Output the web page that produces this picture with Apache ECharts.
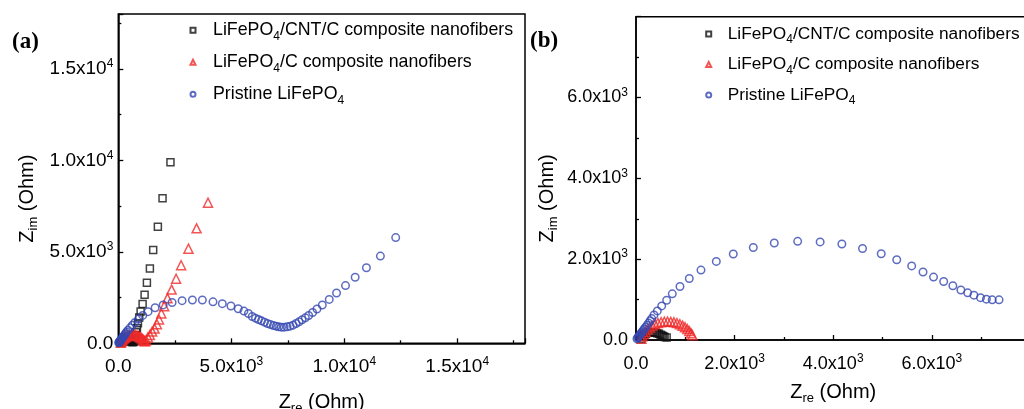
<!DOCTYPE html>
<html>
<head>
<meta charset="utf-8">
<script src="https://cdn.jsdelivr.net/npm/echarts@6/dist/echarts.min.js"></script>
<style>
html,body{margin:0;padding:0;background:#fff}
#chart{width:1024px;height:409px}
</style>
</head>
<body>
<div id="chart"></div>
<script>
// panel (a) - whole Nyquist plot, [Zre, Zim] in Ohm
var cntA = [[105,20],[120,65],[140,100],[165,130],[195,155],[230,175],[270,188],[310,193],[350,190],[390,182],[430,168],[465,152],[500,132],[530,112],[560,90],[600,68],[650,55],
  [700,90],[715,180],[735,290],[760,430],[790,606],[825,826],[869,1101],[926,1409],[988,1740],[1076,2147],[1164,2659],[1266,3303],[1398,4090],[1544,5098],[1751,6364],[1958,7927],[2309,9890]];
var cA = [[110,30],[130,90],[160,150],[195,205],[235,260],[280,310],[330,355],[385,392],[445,420],[510,440],[575,452],[640,455],[705,450],[770,438],[830,418],[890,390],[945,355],[995,315],[1040,270],[1080,220],[1115,170],[1150,125],
  [1185,110],[1230,170],[1310,320],[1398,457],[1499,639],[1605,804],[1707,1046],[1800,1300],[1905,1630],[2030,2030],[2176,2460],[2360,2935],[2559,3530],[2780,4265],[3104,5175],[3464,6284],[3970,7687]];
var pristineA = [[20,30],[35,55],[50,80],[65,105],[82,132],[100,160],[120,195],[142,232],[166,272],[192,314],[222,362],[255,418],[288,475],[318,530],[365,621],[432,720],[521,844],[622,985],[736,1142],[892,1324],[1081,1523],[1318,1730],[1629,1945],
  [1985,2100],[2381,2230],[2823,2330],[3279,2365],[3720,2365],[4191,2265],[4603,2165],[4985,2040],[5309,1890],[5560,1760],[5760,1630],[5927,1464],[6072,1376],[6205,1300],[6337,1228],[6470,1156],[6602,1079],[6734,1024],[6866,969],[6985,936],[7100,898],[7219,881],[7338,881],
  [7470,898],[7603,936],[7735,991],[7867,1081],[8000,1173],[8132,1283],[8278,1393],[8425,1519],[8600,1685],[8793,1872],[9028,2092],[9336,2400],[9659,2752],[10056,3154],[10483,3611],[10982,4129],[11600,4767],[12277,5780]];

// panel (b) - high frequency part
var cntB = [[105,20],[120,65],[140,100],[165,130],[195,155],[230,175],[270,188],[310,193],[350,190],[390,182],[430,168],[465,152],[500,132],[530,112],[555,92],[580,76],[622,60]];
var cB = [[110,30],[130,90],[160,150],[195,205],[235,260],[280,310],[330,355],[385,392],[445,420],[510,440],[575,452],[640,455],[705,450],[770,438],[830,418],[890,390],[945,355],[995,315],[1040,270],[1080,220],[1115,170],[1143,120]];
var pristineB = [[20,30],[35,55],[50,80],[65,105],[82,132],[100,160],[120,195],[142,232],[166,272],[192,314],[222,362],[255,418],[288,475],[318,530],[365,621],[432,720],[521,844],[622,985],[736,1142],[892,1324],[1081,1523],[1318,1730],[1629,1945],
  [1973,2127],[2379,2290],[2805,2400],[3279,2442],[3735,2428],[4176,2375],[4595,2264],[4974,2135],[5289,1986],[5592,1833],[5822,1684],[6035,1556],[6241,1448],[6427,1341],[6590,1238],[6728,1167],[6854,1109],[6988,1047],[7107,1010],[7225,993],[7364,993]];

var names = ['LiFePO4/CNT/C composite nanofibers', 'LiFePO4/C composite nanofibers', 'Pristine LiFePO4'];
var colors = ['#111111', '#f02a2a', '#3547b0'];
var symbols = ['rect', 'triangle', 'circle'];

var FONT = 'Liberation Sans';

function sci(v, step) {
  if (v === 0) return '{m|0.0}';
  if (v % step !== 0) return '';
  var e = Math.floor(Math.log10(v) + 1e-9);
  var m = v / Math.pow(10, e);
  return '{m|' + m.toFixed(1) + 'x10}{e|' + e + '}';
}
function tickRich(fs) {
  return {
    m: {fontSize: fs, fontFamily: FONT, color: '#000', lineHeight: 22},
    e: {fontSize: 12, fontFamily: FONT, color: '#000', lineHeight: 10, verticalAlign: 'top'}
  };
}
var nameRich = {
  n: {fontSize: 20, fontFamily: FONT, color: '#000', lineHeight: 26},
  s: {fontSize: 13, fontFamily: FONT, color: '#000', lineHeight: 8, verticalAlign: 'bottom'}
};
function legendRich(fs) {
  return {
    n: {fontSize: fs, fontFamily: FONT, color: '#000', lineHeight: 24},
    s: {fontSize: 12, fontFamily: FONT, color: '#000', lineHeight: 8, verticalAlign: 'bottom'}
  };
}
function withSub(name) {
  return '{n|' + name.replace('LiFePO4', 'LiFePO}{s|4}{n|') + '}';
}

function axis(idx, max, step, margin, name, gap, isY) {
  return {
    gridIndex: idx, type: 'value', min: 0, max: max, interval: step,
    axisLine: {lineStyle: {color: '#000', width: 1.5}},
    axisTick: {inside: true, length: 5, lineStyle: {color: '#000', width: 1.3}},
    minorTick: {show: true, splitNumber: 2, length: 3, lineStyle: {color: '#000', width: 1.3}},
    splitLine: {show: false},
    axisLabel: {margin: margin, showMaxLabel: false, formatter: function (v) { return sci(v, step); }, rich: tickRich(idx === 0 ? 19 : 18)},
    name: name, nameLocation: 'middle', nameGap: gap,
    nameTextStyle: {rich: nameRich, padding: isY ? [0, 40, 0, 0] : 0}
  };
}

function series(i, idx, data) {
  return {
    name: names[i], type: 'scatter', xAxisIndex: idx, yAxisIndex: idx,
    symbol: symbols[i], symbolSize: [7, 9, 7.5][i],
    itemStyle: {color: 'rgba(0,0,0,0)', borderColor: colors[i], borderWidth: 1.5},
    data: data
  };
}

function legend(left, top, gap, fs, pad) {
  return {
    orient: 'vertical', left: left, top: top, padding: 0, itemGap: gap,
    itemWidth: 5, itemHeight: 5, data: names,
    formatter: withSub, textStyle: {rich: legendRich(fs), padding: [0, 0, 0, pad]}
  };
}

var chart = echarts.init(document.getElementById('chart'));
chart.setOption({
  animation: false,
  title: [
    {text: '(a)', left: 12, top: 31, padding: 0, textStyle: {fontFamily: 'Liberation Serif', fontWeight: 'bold', fontSize: 23, color: '#000'}},
    {text: '(b)', left: 530, top: 30, padding: 0, textStyle: {fontFamily: 'Liberation Serif', fontWeight: 'bold', fontSize: 23, color: '#000'}}
  ],
  legend: [legend(189.5, 21.2, 11, 17.8, 12.5), legend(705.2, 25.5, 10, 17.3, 11.5)],
  grid: [
    {left: 118.3, top: 14, width: 406.7, height: 329.3, show: true, borderColor: '#000', borderWidth: 1.5, outerBoundsMode: 'none'},
    {left: 636, top: 16.7, width: 394.4, height: 323.3, show: true, borderColor: '#000', borderWidth: 1.5, outerBoundsMode: 'none'}
  ],
  xAxis: [
    axis(0, 18000, 5000, 12, '{n|Z}{s|re}{n| (Ohm)}', 46, false),
    axis(1, 8000, 2000, 13, '{n|Z}{s|re}{n| (Ohm)}', 39, false)
  ],
  yAxis: [
    axis(0, 18000, 5000, 5, '{n|Z}{s|im}{n| (Ohm)}', 78, true),
    axis(1, 8000, 2000, 8, '{n|Z}{s|im}{n| (Ohm)}', 76, true)
  ],
  series: [
    series(0, 0, cntA), series(1, 0, cA), series(2, 0, pristineA),
    series(0, 1, cntB), series(1, 1, cB), series(2, 1, pristineB)
  ]
});
</script>
</body>
</html>
